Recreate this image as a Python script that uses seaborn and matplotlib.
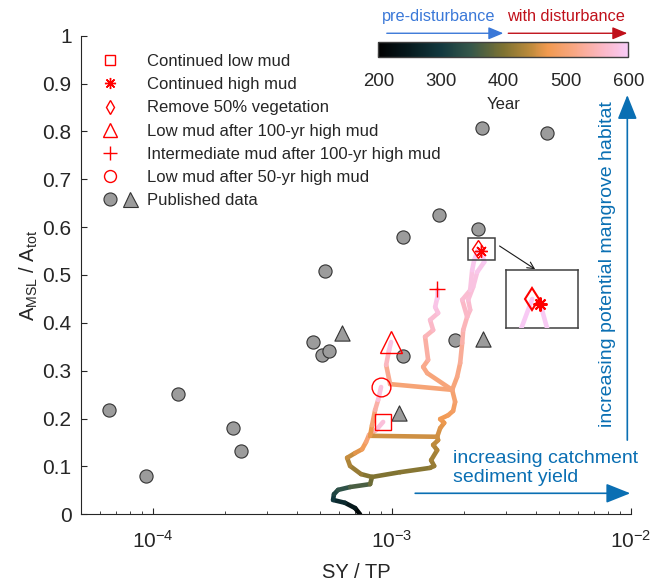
import numpy as np
import matplotlib
matplotlib.use('Agg')
import matplotlib.pyplot as plt
import seaborn as sns
from matplotlib.collections import LineCollection
from matplotlib.colors import LinearSegmentedColormap, Normalize
from matplotlib.cm import ScalarMappable
from matplotlib.lines import Line2D
from matplotlib.patches import Rectangle
from matplotlib.legend_handler import HandlerBase

# published data (grey symbols)
pub_circle_x = [6.5e-5, 9.3e-5, 1.27e-4, 2.16e-4, 2.33e-4, 4.67e-4, 5.09e-4, 5.45e-4,
                5.24e-4, 1.11e-3, 1.11e-3, 1.57e-3, 1.84e-3, 2.29e-3, 2.38e-3, 4.46e-3]
pub_circle_y = [0.218, 0.080, 0.251, 0.180, 0.132, 0.360, 0.333, 0.341,
                0.509, 0.331, 0.579, 0.625, 0.364, 0.596, 0.807, 0.797]
pub_tri_x = [6.16e-4, 2.40e-3, 1.07e-3]
pub_tri_y = [0.378, 0.366, 0.211]

# model trajectories, coloured by year
trunk_year = [200, 230, 260, 290, 310, 330, 350, 375, 400]
trunk_x = [7.34e-4, 7.00e-4, 6.35e-4, 5.66e-4, 5.71e-4, 5.94e-4, 6.67e-4, 8.09e-4, 8.24e-4]
trunk_y = [0.0, 0.013, 0.024, 0.030, 0.042, 0.051, 0.057, 0.063, 0.078]

low_year = [400, 410, 425, 440, 455, 470, 490, 510, 550, 600]
low_x = [8.24e-4, 7.41e-4, 6.67e-4, 6.48e-4, 7.00e-4, 7.49e-4, 7.78e-4, 8.01e-4, 8.57e-4, 9.17e-4]
low_y = [0.078, 0.084, 0.101, 0.118, 0.128, 0.136, 0.151, 0.166, 0.176, 0.193]

high_year = [400, 405, 410, 415, 420, 430, 440, 447, 450, 460, 467, 472, 480, 485, 492,
             500, 510, 520, 535, 545, 555, 562, 570, 578, 586, 594, 600]
high_x = [8.24e-4, 1.08e-3, 1.442e-3, 1.50e-3, 1.456e-3, 1.544e-3, 1.485e-3, 1.558e-3,
          1.544e-3, 1.589e-3, 1.652e-3, 1.589e-3, 1.717e-3, 1.80e-3, 1.836e-3, 1.784e-3,
          1.871e-3, 1.927e-3, 1.965e-3, 1.984e-3, 2.061e-3, 2.122e-3, 2.082e-3, 2.184e-3,
          2.27e-3, 2.43e-3, 2.36e-3]
high_y = [0.078, 0.088, 0.097, 0.101, 0.113, 0.134, 0.145, 0.155, 0.162, 0.180, 0.191,
          0.199, 0.207, 0.216, 0.235, 0.260, 0.287, 0.316, 0.358, 0.385, 0.4125, 0.427,
          0.448, 0.475, 0.506, 0.527, 0.550]

veg_year = [555, 565, 575, 588, 594, 600]
veg_x = [2.061e-3, 1.965e-3, 2.122e-3, 2.163e-3, 2.206e-3, 2.293e-3]
veg_y = [0.4125, 0.448, 0.468, 0.510, 0.531, 0.554]

m50_year = [450, 455, 480, 520, 555, 600]
m50_x = [1.544e-3, 8.09e-4, 8.24e-4, 8.49e-4, 8.74e-4, 8.99e-4]
m50_y = [0.162, 0.164, 0.186, 0.218, 0.239, 0.266]

l100_year = [500, 505, 540, 570, 600]
l100_x = [1.784e-3, 9.81e-4, 9.44e-4, 9.71e-4, 9.90e-4]
l100_y = [0.260, 0.272, 0.312, 0.343, 0.360]

mid_year = [500, 510, 515, 525, 545, 555, 565, 575, 582, 592, 600]
mid_x = [1.784e-3, 1.402e-3, 1.349e-3, 1.415e-3, 1.374e-3, 1.485e-3, 1.442e-3,
         1.558e-3, 1.514e-3, 1.544e-3, 1.544e-3]
mid_y = [0.260, 0.295, 0.308, 0.3226, 0.371, 0.385, 0.406, 0.4206, 0.433, 0.452, 0.471]

legend_labels = ['Continued low mud', 'Continued high mud', 'Remove 50% vegetation',
                 'Low mud after 100-yr high mud', 'Intermediate mud after 100-yr high mud',
                 'Low mud after 50-yr high mud', 'Published data']
y_ticks = [0, 0.1, 0.2, 0.3, 0.4, 0.5, 0.6, 0.7, 0.8, 0.9, 1]
y_tick_labels = ['0', '0.1', '0.2', '0.3', '0.4', '0.5', '0.6', '0.7', '0.8', '0.9', '1']
year_ticks = [200, 300, 400, 500, 600]

sns.set_theme(style='ticks')
plt.rcParams['font.family'] = ['Liberation Sans', 'DejaVu Sans']
plt.rcParams['mathtext.default'] = 'regular'

dark = '#262626'
grey = '#9c9c9c'
red = '#ff0000'
blue = '#0a6fb3'

cmap = LinearSegmentedColormap.from_list('yr', [
    (0.0, '#000000'), (0.12, '#061a1e'), (0.25, '#12393f'), (0.37, '#35574a'),
    (0.5, '#7d7232'), (0.6, '#b8893a'), (0.68, '#f19a50'), (0.8, '#f9a98c'),
    (0.9, '#fbb8c6'), (1.0, '#f8cbf6')])
norm = Normalize(200, 600)

fig = plt.figure(figsize=(6.52, 5.81), dpi=100)
ax = fig.add_axes([0.1247, 0.1148, 0.8431, 0.8238])
ax.set_xscale('log')


def add_path(axis, xs, ys, yrs, lw=3.3):
    pts = np.column_stack([xs, ys])
    segs = np.stack([pts[:-1], pts[1:]], axis=1)
    mids = 0.5 * (np.array(yrs[:-1]) + np.array(yrs[1:]))
    lc = LineCollection(segs, cmap=cmap, norm=norm, linewidths=lw,
                        capstyle='round', joinstyle='round', zorder=3)
    lc.set_array(mids)
    axis.add_collection(lc)


sns.scatterplot(x=pub_circle_x, y=pub_circle_y, ax=ax, marker='o', s=90, color=grey,
                edgecolor='#333333', linewidth=0.8, zorder=2, legend=False)
sns.scatterplot(x=pub_tri_x, y=pub_tri_y, ax=ax, marker='^', s=120, color=grey,
                edgecolor='#333333', linewidth=0.8, zorder=2, legend=False)

paths = [(trunk_x, trunk_y, trunk_year), (low_x, low_y, low_year),
         (high_x, high_y, high_year), (m50_x, m50_y, m50_year),
         (l100_x, l100_y, l100_year), (mid_x, mid_y, mid_year),
         (veg_x, veg_y, veg_year)]
for px, py, pyr in paths:
    add_path(ax, px, py, pyr)

# red end markers
ends = [(low_x, low_y, 's', 11.5), (high_x, high_y, (8, 2, 0), 9),
        (veg_x, veg_y, 'd', 9.5), (l100_x, l100_y, '^', 15.5),
        (mid_x, mid_y, '+', 12), (m50_x, m50_y, 'o', 13.5)]
for ex, ey, mk, ms in ends:
    ax.plot(ex[-1], ey[-1], marker=mk, ms=ms, mfc='none', mec=red, mew=1.0,
            ls='none', zorder=5)

ax.set_xlim(5e-5, 1e-2)
ax.set_ylim(0, 1)
ax.set_yticks(y_ticks)
ax.set_yticklabels(y_tick_labels)
for s in ['top', 'right']:
    ax.spines[s].set_visible(False)
for s in ['left', 'bottom']:
    ax.spines[s].set_color(dark)
    ax.spines[s].set_linewidth(0.8)
ax.tick_params(which='major', direction='in', length=4, width=0.8, color=dark,
               labelsize=15, labelcolor=dark)
ax.tick_params(axis='y', pad=7)
ax.tick_params(axis='x', pad=11)
ax.tick_params(which='minor', direction='in', length=2.5, width=0.6, color=dark)
ax.set_xlabel('SY / TP', fontsize=14.5, color=dark, labelpad=8)
ax.set_ylabel('$A_{MSL}$ / $A_{tot}$', fontsize=14.5, color=dark, labelpad=2)

# zoom box and arrow to inset
zx0, zx1, zy0, zy1 = 2.087e-3, 2.70e-3, 0.531, 0.5767
ax.add_patch(Rectangle((zx0, zy0), zx1 - zx0, zy1 - zy0, fill=False, ec='#404040',
                       lw=1.1, zorder=6))
ax.annotate('', xy=(3.97e-3, 0.512), xytext=(2.816e-3, 0.5606),
            arrowprops=dict(arrowstyle='->', color='k', lw=0.8, shrinkA=0, shrinkB=0))

# blue direction annotations
ax.annotate('', xy=(9.93e-3, 0.0439), xytext=(1.249e-3, 0.0439),
            arrowprops=dict(arrowstyle='-|>,head_length=1.0,head_width=0.4',
                            mutation_scale=15, color=blue, lw=1.2, shrinkA=0, shrinkB=0))
ax.annotate('', xy=(9.65e-3, 0.876), xytext=(9.65e-3, 0.155),
            arrowprops=dict(arrowstyle='-|>,head_length=1.0,head_width=0.4',
                            mutation_scale=15, color=blue, lw=1.2, shrinkA=0, shrinkB=0))
ax.text(1.806e-3, 0.096, 'increasing catchment\nsediment yield', color=blue,
        fontsize=14, ha='left', va='center', linespacing=1.15)
ax.text(7.95e-3, 0.523, 'increasing potential mangrove habitat', color=blue,
        fontsize=14, ha='center', va='center', rotation=90)


# legend
class PubHandler(HandlerBase):
    def create_artists(self, legend, orig_handle, xdescent, ydescent, width, height,
                       fontsize, trans):
        cx = 0.5 * width - xdescent
        cy = 0.5 * height - ydescent
        c = Line2D([cx], [cy], marker='o', ms=9.4, mfc=grey, mec='#333333', mew=0.8,
                   ls='none', transform=trans)
        t = Line2D([cx + 14.4], [cy], marker='^', ms=10.8, mfc=grey, mec='#333333',
                   mew=0.8, ls='none', transform=trans)
        return [c, t]


leg_markers = [('s', 7), ((8, 2, 0), 8), ('d', 7.5), ('^', 10), ('+', 9.5), ('o', 8.6)]
handles = [Line2D([], [], marker=m, ms=s, mfc='none', mec=red, mew=1.0, ls='none')
           for m, s in leg_markers]
pub_handle = Line2D([], [], ls='none')
handles.append(pub_handle)
ax.legend(handles, legend_labels, loc='upper left', bbox_to_anchor=(0.1508, 0.907),
          bbox_transform=fig.transFigure, frameon=False, fontsize=12, borderpad=0,
          borderaxespad=0, handlelength=1.4, handletextpad=1.5, labelspacing=0.49,
          handler_map={pub_handle: PubHandler()})

# inset zoom
iax = fig.add_axes([0.7756, 0.435, 0.1113, 0.1003])
iax.set_xscale('log')
add_path(iax, high_x, high_y, high_year)
add_path(iax, veg_x, veg_y, veg_year)
iax.plot(veg_x[-1], veg_y[-1], marker='d', ms=11.2, mfc='none', mec=red, mew=1.5,
         ls='none', zorder=5)
iax.plot(high_x[-1], high_y[-1], marker=(8, 2, 0), ms=10, mfc='none', mec=red, mew=1.5,
         ls='none', zorder=5)
iax.set_xlim(zx0, zx1)
iax.set_ylim(zy0, zy1)
iax.set_xticks([])
iax.set_yticks([])
iax.minorticks_off()
for s in iax.spines.values():
    s.set_color('#404040')
    s.set_linewidth(1.1)

# colorbar
cax = fig.add_axes([0.5802, 0.9014, 0.3834, 0.02685])
sm = ScalarMappable(norm=norm, cmap=cmap)
cb = fig.colorbar(sm, cax=cax, orientation='horizontal', ticks=year_ticks)
cb.outline.set_edgecolor('#404040')
cb.outline.set_linewidth(1.0)
cax.tick_params(direction='in', length=3, width=0.8, color=dark, labelsize=13.4,
                labelcolor=dark, pad=11)
cb.set_label('Year', fontsize=12, color=dark, labelpad=5)
cax.annotate('', xy=(0.5, 1.54), xytext=(0.034, 1.54), xycoords='axes fraction',
             arrowprops=dict(arrowstyle='-|>,head_length=0.6,head_width=0.25',
                             mutation_scale=15, color='#3a78d8', lw=1.0,
                             shrinkA=0, shrinkB=0))
cax.annotate('', xy=(0.996, 1.54), xytext=(0.52, 1.54), xycoords='axes fraction',
             arrowprops=dict(arrowstyle='-|>,head_length=0.6,head_width=0.25',
                             mutation_scale=15, color='#c0101a', lw=1.0,
                             shrinkA=0, shrinkB=0))
cax.text(0.243, 2.6, 'pre-disturbance', transform=cax.transAxes, ha='center',
         va='center', color='#3a78d8', fontsize=11.7)
cax.text(0.751, 2.6, 'with disturbance', transform=cax.transAxes, ha='center',
         va='center', color='#c0101a', fontsize=11.7)

fig.savefig('out.png', dpi=100)
